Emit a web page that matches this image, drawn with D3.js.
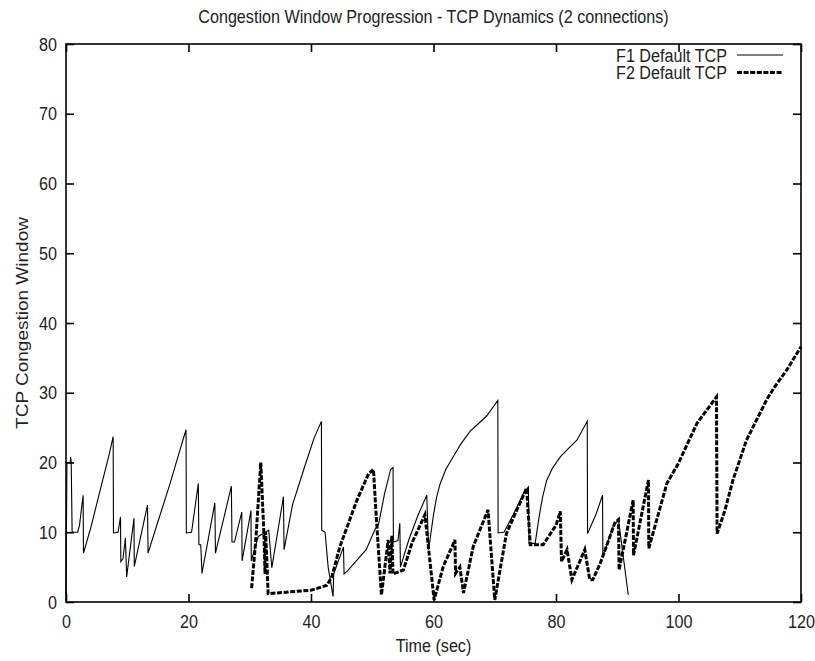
<!DOCTYPE html>
<html>
<head>
<meta charset="utf-8">
<script src="https://cdn.jsdelivr.net/npm/d3@7"></script>
<style>
  body { margin: 0; background: #fff; }
  text { font-family: "Liberation Sans", Arial, sans-serif; fill: #222; }
  /* the reference is squeezed sideways, so glyphs are narrowed */
  .narrow { transform-box: fill-box; transform: scaleX(0.85); }
  .mid { transform-origin: 50% 50%; }
  .right { transform-origin: 100% 50%; }
</style>
</head>
<body>
<svg id="chart"></svg>
<script>
// F1 Default TCP (solid), [time, cwnd]
var f1Data = [
  [0,1],[0.15,20],[0.7,20],[0.75,20.8],[0.85,20],[1,10],[1.9,10],[2.2,11],[2.8,15.3],[2.85,7],
  [4,10.5],[5,14],[6,17.5],[7,21],[7.7,23.7],[7.75,9.9],[8.5,10],[8.9,12.2],[8.95,5.8],[9.3,6.2],
  [9.7,9.2],[9.9,3.6],[11.1,12],[11.15,5.1],[13.3,13.9],[13.4,7],[15,11.5],[17,17],[18.5,21.5],
  [19.6,24.7],[19.65,9.9],[20.5,10],[21.6,17],[21.7,8.2],[22,8.2],[22.2,4.1],[24.3,14.2],[24.4,7],
  [27,16.6],[27.1,8.6],[27.5,8.6],[28.7,12.9],[28.75,5.9],[30.2,13.1],[30.25,5.9],[31.4,9.4],
  [33.1,10.3],[33.6,4.9],[35.5,15.1],[35.6,7.5],[37,14],[39,19.5],[40.5,23.5],[41.7,25.9],
  [41.75,10.3],[42.3,10],[42.8,5],[43.6,0.8],[43.7,4],[45.3,7.9],[45.4,4],[46,4.5],[47.5,6],
  [49,7.5],[50.5,10.5],[51,11],[52,15.5],[53,19],[53.4,19.3],[53.45,8.6],[54.2,8.8],[54.5,11.3],
  [54.6,5],[56,9],[57.5,12.5],[58.9,15.3],[59.2,7.5],[59.6,10],[60,12.5],[60.5,15],[61.1,17],
  [62,19],[63.2,20.8],[64.5,22.7],[66,24.5],[67.5,25.7],[68.7,26.7],[70.5,28.9],[70.55,9.9],
  [71.5,10],[73,12.5],[74.7,15.6],[75.5,16.5],[75.6,8.4],[76.6,8.4],[77.2,12],[77.8,15],
  [78.5,17.5],[79.5,19.3],[80.7,20.8],[82,22],[83.4,23.2],[85.1,25.9],[85.15,9.8],[86.5,12.5],
  [87.6,15.3],[87.65,6.5],[89.4,11],[90.2,11.8],[91.8,1]
];

// F2 Default TCP (dashed), [time, cwnd]
var f2Data = [
  [30.3,2],[31,9],[31.8,20],[32.3,10],[32.5,4],[32.6,10],[33,1.2],[40.1,1.7],[42.6,2.4],[43.4,3.6],
  [44.7,7.9],[47.5,14.6],[49.4,18.4],[50.2,19],[50.6,13],[51.5,1],[52.6,8.9],[52.9,4.1],[53.2,9.5],
  [53.4,4],[55.1,4.6],[56.5,8.5],[58.6,12.5],[60.1,0.3],[61.6,5.1],[63.5,8.9],[63.6,4.1],[64.3,5],
  [64.9,1.3],[66.5,8],[68.9,13.2],[70,0.3],[71.9,9.8],[73.5,13],[75.2,16.3],[75.8,8.2],[77.9,8.2],
  [80,11],[80.7,13],[80.9,5.8],[81.8,7.5],[82.6,3.2],[84.7,7.5],[85.5,3.2],[86,3.2],[87.2,5.5],
  [89.6,11.3],[90.2,11.8],[90.3,4.6],[92.6,14.6],[92.65,6.7],[95.1,17.5],[95.15,7.7],[98.1,17],
  [100,19.9],[103,25.6],[106.2,29.4],[106.3,9.8],[107.6,13.2],[108.9,17.5],[111.1,23.2],
  [114.4,29],[115.5,30.6],[117.7,33.3],[120,36.6]
];

var xTicks = [0, 20, 40, 60, 80, 100, 120];
var yTicks = [0, 10, 20, 30, 40, 50, 60, 70, 80];
var seriesNames = ["F1 Default TCP", "F2 Default TCP"];

var W = 815, H = 661;
var margin = {top: 44, right: 14, bottom: 59, left: 66},
    width = W - margin.left - margin.right,
    height = H - margin.top - margin.bottom;

var svg = d3.select("#chart").attr("width", W).attr("height", H);

var x = d3.scaleLinear().domain([0, 120]).range([0, width]);
var y = d3.scaleLinear().domain([0, 80]).range([height, 0]);

var g = svg.append("g")
  .attr("transform", "translate(" + margin.left + "," + margin.top + ")");

// ticks point inward, gnuplot style, mirrored on top and right
var xAxis = g.append("g").attr("class", "axis")
  .attr("transform", "translate(0," + height + ")")
  .call(d3.axisBottom(x).tickValues(xTicks).tickSize(-8).tickPadding(13));
g.append("g").attr("class", "axis")
  .call(d3.axisTop(x).tickValues(xTicks).tickSize(-8).tickFormat(""));
var yAxis = g.append("g").attr("class", "axis")
  .call(d3.axisLeft(y).tickValues(yTicks).tickSize(-8).tickPadding(9));
g.append("g").attr("class", "axis")
  .attr("transform", "translate(" + width + ",0)")
  .call(d3.axisRight(y).tickValues(yTicks).tickSize(-8).tickFormat(""));

g.selectAll(".axis .domain").remove();
g.selectAll(".axis line").attr("stroke", "#000").attr("stroke-width", 1.6);
g.selectAll(".axis text").attr("font-size", 19).attr("fill", "#222")
  .style("font-family", null);
xAxis.selectAll("text").attr("class", "narrow mid");
yAxis.selectAll("text").attr("class", "narrow right");

// frame
g.append("rect")
  .attr("width", width).attr("height", height)
  .attr("fill", "none").attr("stroke", "#000").attr("stroke-width", 1.6);

var line = d3.line()
  .x(function(d) { return x(d[0]); })
  .y(function(d) { return y(d[1]); });

g.append("path").datum(f1Data)
  .attr("d", line)
  .attr("fill", "none").attr("stroke", "#000").attr("stroke-width", 1.1);

g.append("path").datum(f2Data)
  .attr("d", line)
  .attr("fill", "none").attr("stroke", "#000").attr("stroke-width", 3)
  .attr("stroke-dasharray", "5,1.6");

// legend
var legend = g.append("g").attr("transform", "translate(" + (width - 18) + ",0)");
seriesNames.forEach(function(name, i) {
  var ly = 11 + i * 17.5;
  legend.append("text")
    .attr("class", "narrow right")
    .attr("x", -56).attr("y", ly).attr("dy", "0.35em")
    .attr("text-anchor", "end").attr("font-size", 19)
    .text(name);
  legend.append("line")
    .attr("x1", -46).attr("x2", 0).attr("y1", ly).attr("y2", ly)
    .attr("stroke", "#000")
    .attr("stroke-width", i == 0 ? 1.2 : 3)
    .attr("stroke-dasharray", i == 0 ? null : "5,1.6");
});

// title and axis labels
svg.append("text")
  .attr("class", "narrow mid")
  .attr("x", margin.left + width / 2).attr("y", 23)
  .attr("text-anchor", "middle").attr("font-size", 19)
  .text("Congestion Window Progression - TCP Dynamics (2 connections)");

svg.append("text")
  .attr("class", "narrow mid")
  .attr("x", margin.left + width / 2).attr("y", 652)
  .attr("text-anchor", "middle").attr("font-size", 19)
  .text("Time (sec)");

svg.append("text")
  .attr("transform", "translate(28," + (margin.top + height / 2) + ") rotate(-90) scale(1,0.85)")
  .attr("text-anchor", "middle").attr("font-size", 19)
  .text("TCP Congestion Window");
</script>
</body>
</html>
